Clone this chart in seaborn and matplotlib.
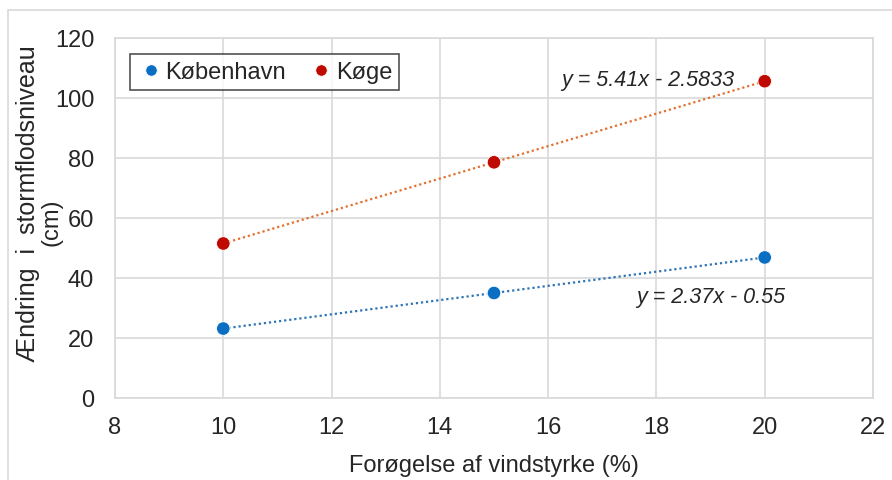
import matplotlib
matplotlib.use("Agg")
import matplotlib.pyplot as plt
import seaborn as sns
import pandas as pd
from matplotlib.patches import Rectangle

# Data
vind = [10, 15, 20]
kbh = [23.15, 35.0, 46.85]
koge = [51.5, 78.57, 105.6]
series_names = ["København", "Køge"]
eq_kbh = "y = 2.37x - 0.55"
eq_koge = "y = 5.41x - 2.5833"
xticks = [8, 10, 12, 14, 16, 18, 20, 22]
yticks = [0, 20, 40, 60, 80, 100, 120]

df = pd.DataFrame({
    "x": vind + vind,
    "y": kbh + koge,
    "by": [series_names[0]] * 3 + [series_names[1]] * 3,
})

sns.set_theme(style="white")
plt.rcParams["font.family"] = ["Liberation Sans", "DejaVu Sans"]

fig = plt.figure(figsize=(8.92, 4.81), dpi=100)
ax = fig.add_axes([115 / 892, 1 - 399 / 481, (873 - 115) / 892, (399 - 39) / 481])

# outer frame
fig.patches.append(Rectangle((8 / 892, -0.1), 1.2, 1 - 11 / 481 + 0.1, transform=fig.transFigure,
                             fill=False, edgecolor="#d9d9d9", linewidth=1.2))

blue = "#0A6FC2"
red = "#BE0A00"
sns.regplot(x=vind, y=kbh, ax=ax, scatter=False, ci=None,
            line_kws=dict(color="#2E75B6", linestyle=(0, (1, 1.3)), linewidth=1.6))
sns.regplot(x=vind, y=koge, ax=ax, scatter=False, ci=None,
            line_kws=dict(color="#E2702E", linestyle=(0, (1, 1.3)), linewidth=1.6))
sns.scatterplot(data=df, x="x", y="y", hue="by", palette=[blue, red], s=95,
                edgecolor="white", linewidth=0.6, ax=ax, zorder=5)

ax.set_xlim(8, 22)
ax.set_ylim(0, 120)
ax.set_xticks(xticks)
ax.set_yticks(yticks)
ax.grid(True, color="#d9d9d9", linewidth=1.2)
ax.set_axisbelow(True)
for s in ax.spines.values():
    s.set_color("#d9d9d9")
    s.set_linewidth(1.2)
ax.tick_params(axis="y", labelsize=17, colors="#262626", length=0, pad=15)
ax.tick_params(axis="x", labelsize=17, colors="#262626", length=0, pad=13)
ax.set_xlabel("Forøgelse af vindstyrke (%)", fontsize=17, color="#262626", va="center")
ax.xaxis.set_label_coords(0.5, (399 - 466) / 360)
ax.set_ylabel("Ændring  i  stormflodsniveau", fontsize=18, color="#262626", va="center")
ax.yaxis.set_label_coords((28 - 115) / 758, (399 - 204) / 360)
ax.text((52 - 115) / 758, (399 - 222) / 360, "(cm)", transform=ax.transAxes, rotation=90,
        fontsize=17, color="#262626", ha="center", va="center")

ax.text(16.25, 106, eq_koge, fontsize=15.5, style="italic", color="#262626", va="center", ha="left")
ax.text(17.62, 33.7, eq_kbh, fontsize=15.5, style="italic", color="#262626", va="center", ha="left")

leg = ax.legend(loc="upper left", bbox_to_anchor=(15 / 758, 1 - 16 / 360), ncol=2, fontsize=17,
                frameon=True, fancybox=False, edgecolor="#262626", handletextpad=0.0,
                columnspacing=0.9, borderpad=0.3, handlelength=1.2, markerscale=0.85,
                borderaxespad=0)
leg.get_frame().set_linewidth(1.2)
for t in leg.get_texts():
    t.set_color("#262626")

fig.savefig("out.png", dpi=100)
